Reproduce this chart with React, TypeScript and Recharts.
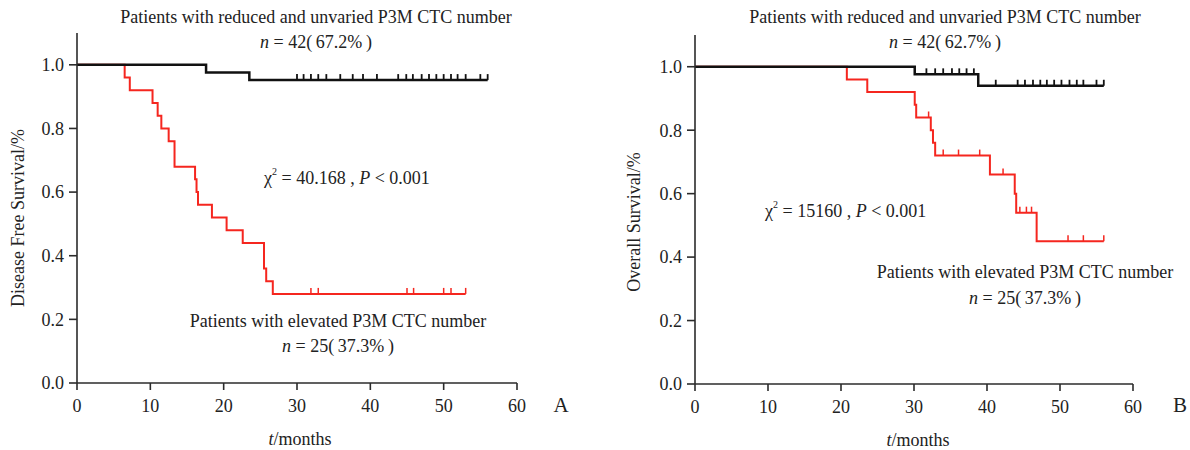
import React from "react";
import { ComposedChart, Line, Scatter, XAxis, YAxis } from "recharts";

const monthTicks = [0, 10, 20, 30, 40, 50, 60];
const survivalTicks = [0, 0.2, 0.4, 0.6, 0.8, 1.0];

// A: disease free survival
const dfsLowTimes = [0, 17.6, 23.5, 56];
const dfsLowSurv = [1, 0.976, 0.952, 0.952];
const dfsLowCensor = [30, 30.9, 31.9, 32.9, 34, 35.9, 37.6, 39, 40.9, 43.8, 44.9, 45.8, 47, 48, 49, 50, 51, 51.9, 53, 55, 56];
const dfsHighTimes = [0, 6.5, 7.2, 10.3, 11, 11.5, 12.5, 13.3, 16.1, 16.3, 16.5, 18.4, 20.4, 22.6, 25.5, 25.8, 26.7, 53];
const dfsHighSurv = [1, 0.96, 0.92, 0.88, 0.84, 0.8, 0.76, 0.68, 0.64, 0.6, 0.56, 0.52, 0.48, 0.44, 0.36, 0.32, 0.28, 0.28];
const dfsHighCensor = [31.9, 32.9, 45, 45.9, 50, 51, 53];

// B: overall survival
const osLowTimes = [0, 30.1, 38.8, 56];
const osLowSurv = [1, 0.976, 0.94, 0.94];
const osLowCensor = [31.7, 32.9, 34, 35.2, 36.2, 37.2, 38.2, 41.2, 44.2, 45.2, 46.3, 47.3, 48.2, 49.2, 50.2, 51.3, 52.3, 53.2, 55, 56];
const osHighTimes = [0, 20.8, 23.6, 30.1, 30.3, 32.3, 32.6, 32.9, 40.4, 43.8, 44, 46.8, 56];
const osHighSurv = [1, 0.96, 0.92, 0.88, 0.84, 0.8, 0.76, 0.72, 0.66, 0.6, 0.54, 0.45, 0.45];
const osHighCensor = [32, 34, 36.1, 39, 42.2, 44.5, 45.4, 46.1, 51.1, 53.2, 56];

const serif = '"Liberation Serif", "DejaVu Serif", serif';
const axisColor = "#2b2b2b";

type Pt = { t: number; s: number };

function curve(times: number[], surv: number[]): Pt[] {
  return times.map((t, i) => ({ t, s: surv[i] }));
}

function censorMarks(times: number[], surv: number[], censor: number[]): Pt[] {
  return censor.map((c) => {
    let s = surv[0];
    times.forEach((t, i) => {
      if (t <= c) s = surv[i];
    });
    return { t: c, s };
  });
}

function tickShape(color: string, w: number) {
  return (props: any) => (
    <line x1={props.cx} y1={props.cy} x2={props.cx} y2={props.cy - 6} stroke={color} strokeWidth={w} />
  );
}

interface KMProps {
  lowTimes: number[];
  lowSurv: number[];
  lowCensor: number[];
  highTimes: number[];
  highSurv: number[];
  highCensor: number[];
  margin: { top: number; right: number; left: number; bottom: number };
}

function KMChart(p: KMProps) {
  const tickStyle = { fontSize: 18, fill: "#222", fontFamily: serif };
  return (
    <ComposedChart width={595} height={450} margin={p.margin}>
      <XAxis
        dataKey="t"
        type="number"
        domain={[0, 60]}
        ticks={monthTicks}
        tick={tickStyle}
        tickSize={7}
        tickMargin={9}
        axisLine={{ stroke: axisColor, strokeWidth: 1.6 }}
        tickLine={{ stroke: axisColor, strokeWidth: 1.6 }}
        height={30}
      />
      <YAxis
        dataKey="s"
        type="number"
        domain={[0, 1.1]}
        ticks={survivalTicks}
        tickFormatter={(v: number) => v.toFixed(1)}
        tick={tickStyle}
        tickSize={8}
        tickMargin={5}
        axisLine={{ stroke: axisColor, strokeWidth: 1.6 }}
        tickLine={{ stroke: axisColor, strokeWidth: 1.6 }}
        width={40}
      />
      <Line
        data={curve(p.highTimes, p.highSurv)}
        dataKey="s"
        type="stepAfter"
        stroke="#f5261f"
        strokeWidth={2}
        dot={false}
        activeDot={false}
        isAnimationActive={false}
      />
      <Scatter
        data={censorMarks(p.highTimes, p.highSurv, p.highCensor)}
        dataKey="s"
        shape={tickShape("#f5261f", 1.5)}
        isAnimationActive={false}
      />
      <Line
        data={curve(p.lowTimes, p.lowSurv)}
        dataKey="s"
        type="stepAfter"
        stroke="#111"
        strokeWidth={2.5}
        dot={false}
        activeDot={false}
        isAnimationActive={false}
      />
      <Scatter
        data={censorMarks(p.lowTimes, p.lowSurv, p.lowCensor)}
        dataKey="s"
        shape={tickShape("#111", 1.8)}
        isAnimationActive={false}
      />
    </ComposedChart>
  );
}

function Txt({ x, y, children, size = 18, center = true }: any) {
  return (
    <div
      style={{
        position: "absolute",
        left: x,
        top: y,
        transform: center ? "translate(-50%, -50%)" : "translate(0, -50%)",
        whiteSpace: "nowrap",
        fontFamily: serif,
        fontSize: size,
        color: "#222",
        lineHeight: 1,
      }}
    >
      {children}
    </div>
  );
}

function VTxt({ x, y, children }: any) {
  return (
    <div
      style={{
        position: "absolute",
        left: x,
        top: y,
        transform: "translate(-50%, -50%) rotate(-90deg)",
        whiteSpace: "nowrap",
        fontFamily: serif,
        fontSize: 18,
        color: "#222",
        lineHeight: 1,
      }}
    >
      {children}
    </div>
  );
}

const chi = (
  <span>
    χ<sup style={{ fontSize: 10, verticalAlign: 9 }}>2</sup>
  </span>
);

export default function App() {
  return (
    <div style={{ position: "absolute", left: 0, top: 0, width: 1190, height: 450, background: "#fff" }}>
      <div style={{ position: "absolute", left: 0, top: 0 }}>
        <KMChart
          lowTimes={dfsLowTimes}
          lowSurv={dfsLowSurv}
          lowCensor={dfsLowCensor}
          highTimes={dfsHighTimes}
          highSurv={dfsHighSurv}
          highCensor={dfsHighCensor}
          margin={{ top: 33, right: 78, left: 37, bottom: 37 }}
        />
      </div>
      <div style={{ position: "absolute", left: 595, top: 0 }}>
        <KMChart
          lowTimes={osLowTimes}
          lowSurv={osLowSurv}
          lowCensor={osLowCensor}
          highTimes={osHighTimes}
          highSurv={osHighSurv}
          highCensor={osHighCensor}
          margin={{ top: 35, right: 57, left: 60, bottom: 36 }}
        />
      </div>

      {/* A annotations */}
      <Txt x={316} y={17}>Patients with reduced and unvaried P3M CTC number</Txt>
      <Txt x={316} y={42}>
        <i>n</i> = 42(&#8201;67.2%&#8201;)
      </Txt>
      <Txt x={264} y={177} center={false}>
        {chi} = 40.168 , <i>P</i> &lt; 0.001
      </Txt>
      <Txt x={338} y={321}>Patients with elevated P3M CTC number</Txt>
      <Txt x={338} y={346}>
        <i>n</i> = 25(&#8201;37.3%&#8201;)
      </Txt>
      <Txt x={561} y={405} size={21}>A</Txt>
      <Txt x={300} y={439}>
        <i>t</i>/months
      </Txt>
      <VTxt x={18} y={218}>Disease Free Survival/%</VTxt>

      {/* B annotations */}
      <Txt x={945} y={17}>Patients with reduced and unvaried P3M CTC number</Txt>
      <Txt x={945} y={42}>
        <i>n</i> = 42(&#8201;62.7%&#8201;)
      </Txt>
      <Txt x={765} y={210} center={false}>
        {chi} = 15160 , <i>P</i> &lt; 0.001
      </Txt>
      <Txt x={1025} y={272}>Patients with elevated P3M CTC number</Txt>
      <Txt x={1025} y={298}>
        <i>n</i> = 25(&#8201;37.3%&#8201;)
      </Txt>
      <Txt x={1180} y={405} size={21}>B</Txt>
      <Txt x={918} y={440}>
        <i>t</i>/months
      </Txt>
      <VTxt x={634} y={222}>Overall Survival/%</VTxt>
    </div>
  );
}
